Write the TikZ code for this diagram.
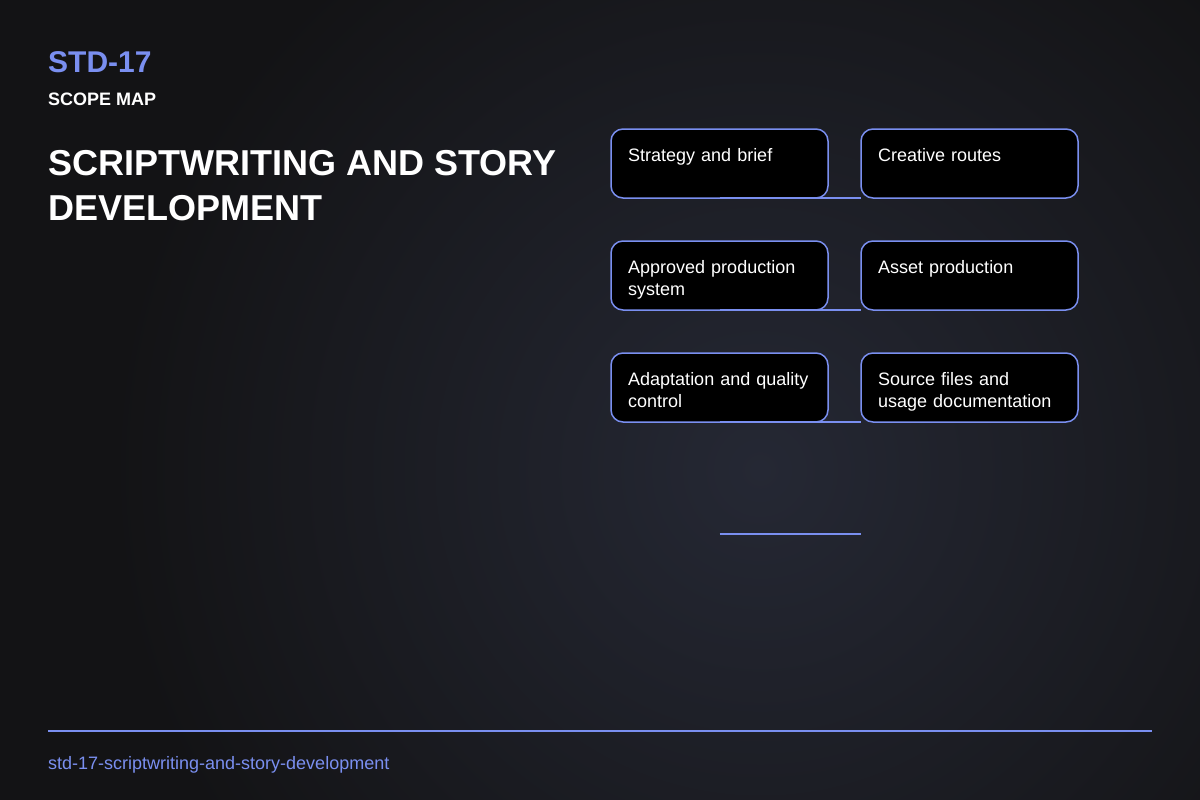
\documentclass[tikz,border=0pt]{standalone}
\usepackage{fontspec}
\setmainfont{Liberation Sans}
\usetikzlibrary{positioning}

\definecolor{accent}{RGB}{122,143,240}
\definecolor{bgBase}{RGB}{19,19,21}
\definecolor{bgGlow}{RGB}{37,40,52}

\begin{document}
\begin{tikzpicture}[x=1pt,y=1pt,
        scopebox/.style={draw=accent,line width=1.5pt,fill=black,rounded corners=12pt,
            minimum width=217pt,minimum height=69pt,inner sep=0pt,outer sep=0pt},
        scopelabel/.style={anchor=north west,inner sep=0pt,text width=195pt,align=left,
            text=white,font=\fontsize{18}{22}\selectfont},
        link/.style={draw=accent,line width=2pt}]

        % -----------
        % Parameters.
        % -----------

        % Constants.
        \pgfmathsetmacro{\colGap}{33}     % Gap between the two columns.
        \pgfmathsetmacro{\rowGap}{43}     % Gap between two rows.
        \pgfmathsetmacro{\padX}{17}       % Left padding of box text.
        \pgfmathsetmacro{\padY}{19}       % Top padding of box text.

        % --------
        % Drawing.
        % --------

        % Background.
        \useasboundingbox(0,0)rectangle(1200,-800);
        \fill[bgBase](0,0)rectangle(1200,-800);
        \begin{scope}
            \clip(0,0)rectangle(1200,-800);
            \shade[inner color=bgGlow,outer color=bgBase](760,-470)circle(650);
        \end{scope}

        % Header.
        \node[anchor=base west,inner sep=0pt,text=accent,font=\bfseries\fontsize{30}{36}\selectfont](code)at(48,-73){STD-17};
        \node[anchor=base west,inner sep=0pt,text=white,font=\bfseries\fontsize{18}{22}\selectfont](kind)at(48,-105){SCOPE MAP};
        \node[anchor=north west,inner sep=0pt,align=left,text=white,font=\bfseries\fontsize{36}{45}\selectfont](title)at(48,-150){SCRIPTWRITING AND STORY\\DEVELOPMENT};

        % Boxes.
        \node[scopebox,anchor=north west](s1)at(611,-129){};
        \node[scopebox,right=\colGap pt of s1](s2){};
        \node[scopebox,below=\rowGap pt of s1](s3){};
        \node[scopebox,right=\colGap pt of s3](s4){};
        \node[scopebox,below=\rowGap pt of s3](s5){};
        \node[scopebox,right=\colGap pt of s5](s6){};

        % Box texts.
        \node[scopelabel](t1)at([xshift=\padX pt,yshift=-\padY pt]s1.north west){Strategy and brief};
        \node[scopelabel](t2)at([xshift=\padX pt,yshift=-\padY pt]s2.north west){Creative routes};
        \node[scopelabel](t3)at([xshift=\padX pt,yshift=-\padY pt]s3.north west){Approved production\\system};
        \node[scopelabel](t4)at([xshift=\padX pt,yshift=-\padY pt]s4.north west){Asset production};
        \node[scopelabel](t5)at([xshift=\padX pt,yshift=-\padY pt]s5.north west){Adaptation and quality\\control};
        \node[scopelabel](t6)at([xshift=\padX pt,yshift=-\padY pt]s6.north west){Source files and\\usage documentation};

        % Links between rows.
        \draw[link](s1.south)--(s1.south-|s2.west);
        \draw[link](s3.south)--(s3.south-|s4.west);
        \draw[link](s5.south)--(s5.south-|s6.west);
        \coordinate(e1)at([yshift=-112pt]s5.south);
        \coordinate(e2)at(e1-|s6.west);
        \draw[link](e1)--(e2);

        % Footer.
        \coordinate(ruleL)at(48,-731);
        \coordinate(ruleR)at(1152,-731);
        \draw[link](ruleL)--(ruleR);
        \node[anchor=base west,inner sep=0pt,text=accent,font=\fontsize{18}{22}\selectfont](slug)at(48,-769){std-17-scriptwriting-and-story-development};

    \end{tikzpicture}
\end{document}
